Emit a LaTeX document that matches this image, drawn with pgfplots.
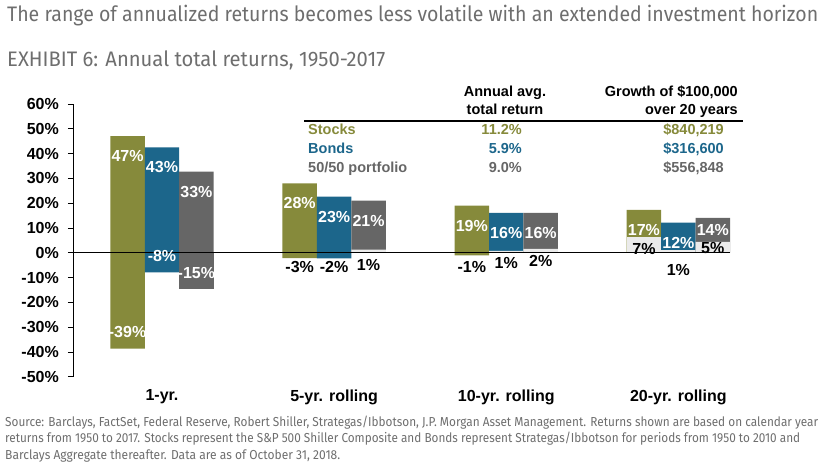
\documentclass[border=0pt]{standalone}
\usepackage{fontspec}
\setmainfont{Liberation Sans}
\newfontfamily\jpfont[FakeStretch=0.86]{Fira Sans}
\usepackage{pgfplots}
\pgfplotsset{compat=1.18}
\definecolor{stk}{HTML}{868A3B}
\definecolor{bnd}{HTML}{1C668B}
\definecolor{mix}{HTML}{666666}
\definecolor{lgr}{HTML}{EBEBEB}
\definecolor{ttl}{HTML}{6E6E6E}
\newcommand{\bl}{\bfseries\fontsize{16}{16}\selectfont}
\newcommand{\tb}{\bfseries\fontsize{14.5}{14.5}\selectfont}
\begin{document}
\begin{tikzpicture}
\path[use as bounding box] (0pt,0pt) rectangle (828pt,-468pt);
% titles
\node[anchor=base west, inner sep=0, text=ttl, font=\jpfont\fontsize{21}{21}\selectfont] at (7pt,-21.7pt)
  {\resizebox{811pt}{\height}{The range of annualized returns becomes less volatile with an extended investment horizon}};
\node[anchor=base west, inner sep=0, text=ttl, font=\jpfont\fontsize{21}{21}\selectfont] at (7pt,-67pt)
  {\resizebox{378pt}{\height}{EXHIBIT 6: Annual total returns, 1950-2017}};

\begin{axis}[
  at={(73pt,-376.7pt)}, anchor=south west, scale only axis,
  width=657pt, height=272.7pt,
  xmin=-0.517, xmax=3.3, ymin=-50, ymax=60,
  axis x line=none, axis y line*=left,
  axis line style={black, line width=0.8pt},
  xtick=\empty,
  ytick={-50,-40,-30,-20,-10,0,10,20,30,40,50,60},
  yticklabels={-50\%,-40\%,-30\%,-20\%,-10\%,0\%,10\%,20\%,30\%,40\%,50\%,60\%},
  yticklabel style={font=\bl, text=black, inner sep=0pt, anchor=east, xshift=-9pt},
  tick align=outside, major tick length=5pt,
  ytick style={black, line width=0.8pt},
  clip=false,
]
% Stocks
\addplot[ybar, bar width=0.2, bar shift=-0.2, fill=stk, draw=none] coordinates {(0,47) (1,28) (2,19) (3,17.3)};
\addplot[ybar, bar width=0.2, bar shift=-0.2, fill=stk, draw=none] coordinates {(0,-38.7) (1,-2.2) (2,-1.1)};
\addplot[ybar, bar width=0.2, bar shift=-0.2, fill=lgr, draw=none] coordinates {(3,6.5)};
% Bonds
\addplot[ybar, bar width=0.2, bar shift=0, fill=bnd, draw=none] coordinates {(0,42.5) (1,22.6) (2,16.1) (3,12.1)};
\addplot[ybar, bar width=0.2, bar shift=0, fill=bnd, draw=none] coordinates {(0,-7.9) (1,-2.3)};
\addplot[ybar, bar width=0.2, bar shift=0, fill=lgr, draw=none] coordinates {(2,0.8) (3,1.1)};
% 50/50
\addplot[ybar, bar width=0.2, bar shift=0.2, fill=mix, draw=none] coordinates {(0,32.7) (1,21) (2,16.1) (3,14.1)};
\addplot[ybar, bar width=0.2, bar shift=0.2, fill=mix, draw=none] coordinates {(0,-14.8)};
\addplot[ybar, bar width=0.2, bar shift=0.2, fill=lgr, draw=none] coordinates {(1,1.3) (2,1.6) (3,4.4)};

\draw[black, line width=1pt] (axis cs:-0.517,0) -- (axis cs:3.3,0);

% max labels (white)
\begin{scope}[every node/.style={font=\bl, text=white, inner sep=0pt, yshift=-20pt}]
\node at (axis cs:-0.2,47) {47\%};
\node at (axis cs:0,42.5) {43\%};
\node at (axis cs:0.2,32.7) {33\%};
\node at (axis cs:0.8,28) {28\%};
\node at (axis cs:1,22.6) {23\%};
\node at (axis cs:1.2,21) {21\%};
\node at (axis cs:1.8,19) {19\%};
\node at (axis cs:2,16.1) {16\%};
\node at (axis cs:2.2,16.1) {16\%};
\node at (axis cs:2.8,17.3) {17\%};
\node at (axis cs:3,12.1) {12\%};
\end{scope}
\node[font=\bl, text=white, inner sep=0pt] at (axis cs:3.2,9.3) {14\%};
% min labels
\begin{scope}[every node/.style={font=\bl, text=white, inner sep=0pt}]
\node at (axis cs:-0.2,-31.9) {-39\%};
\node at (axis cs:0,-1.2) {-8\%};
\node at (axis cs:0.2,-8.1) {-15\%};
\end{scope}
\begin{scope}[every node/.style={font=\bl, text=black, inner sep=0pt}]
\node at (axis cs:0.8,-5.9) {-3\%};
\node at (axis cs:1,-5.9) {-2\%};
\node at (axis cs:1.2,-4.8) {1\%};
\node at (axis cs:1.8,-5.9) {-1\%};
\node at (axis cs:2,-4.0) {1\%};
\node at (axis cs:2.2,-3.5) {2\%};
\node at (axis cs:2.8,1.6) {7\%};
\node at (axis cs:3,-6.85) {1\%};
\node at (axis cs:3.2,2.0) {5\%};
\end{scope}
% category labels
\begin{scope}[every node/.style={font=\bl, text=black, inner sep=0pt, yshift=-20.3pt}]
\node at (axis cs:0,-50) {1-yr.};
\node at (axis cs:1,-50) {5-yr. rolling};
\node at (axis cs:2,-50) {10-yr. rolling};
\node at (axis cs:3,-50) {20-yr. rolling};
\end{scope}
\end{axis}

% table
\node[anchor=base, inner sep=0, font=\tb] at (505pt,-96.7pt) {Annual avg.};
\node[anchor=base, inner sep=0, font=\tb] at (505pt,-114.3pt) {total return};
\node[anchor=base east, inner sep=0, font=\tb] at (738pt,-96.7pt) {Growth of \$100,000};
\node[anchor=base east, inner sep=0, font=\tb] at (738pt,-114.3pt) {over 20 years};
\draw[black, line width=1.7pt] (304pt,-121pt) -- (743pt,-121pt);
\node[anchor=base west, inner sep=0, font=\tb, text=stk] at (308pt,-135pt) {Stocks};
\node[anchor=base west, inner sep=0, font=\tb, text=bnd] at (308pt,-154pt) {Bonds};
\node[anchor=base west, inner sep=0, font=\tb, text=mix] at (308pt,-172.7pt) {50/50 portfolio};
\node[anchor=base east, inner sep=0, font=\tb, text=stk] at (522pt,-135pt) {11.2\%};
\node[anchor=base east, inner sep=0, font=\tb, text=bnd] at (522pt,-154pt) {5.9\%};
\node[anchor=base east, inner sep=0, font=\tb, text=mix] at (522pt,-172.7pt) {9.0\%};
\node[anchor=base east, inner sep=0, font=\tb, text=stk] at (724pt,-135pt) {\$840,219};
\node[anchor=base east, inner sep=0, font=\tb, text=bnd] at (724pt,-154pt) {\$316,600};
\node[anchor=base east, inner sep=0, font=\tb, text=mix] at (724pt,-172.7pt) {\$556,848};

% footnote
\begin{scope}[every node/.style={anchor=base west, inner sep=0, text=ttl, font=\jpfont\fontsize{13}{13}\selectfont}]
\node at (5pt,-426pt) {\resizebox{813pt}{\height}{Source: Barclays, FactSet, Federal Reserve, Robert Shiller, Strategas/Ibbotson, J.P. Morgan Asset Management. Returns shown are based on calendar year}};
\node at (5pt,-442pt) {\resizebox{795pt}{\height}{returns from 1950 to 2017. Stocks represent the S\&P 500 Shiller Composite and Bonds represent Strategas/Ibbotson for periods from 1950 to 2010 and}};
\node at (5pt,-459pt) {\resizebox{335pt}{\height}{Barclays Aggregate thereafter. Data are as of October 31, 2018.}};
\end{scope}
\end{tikzpicture}
\end{document}
